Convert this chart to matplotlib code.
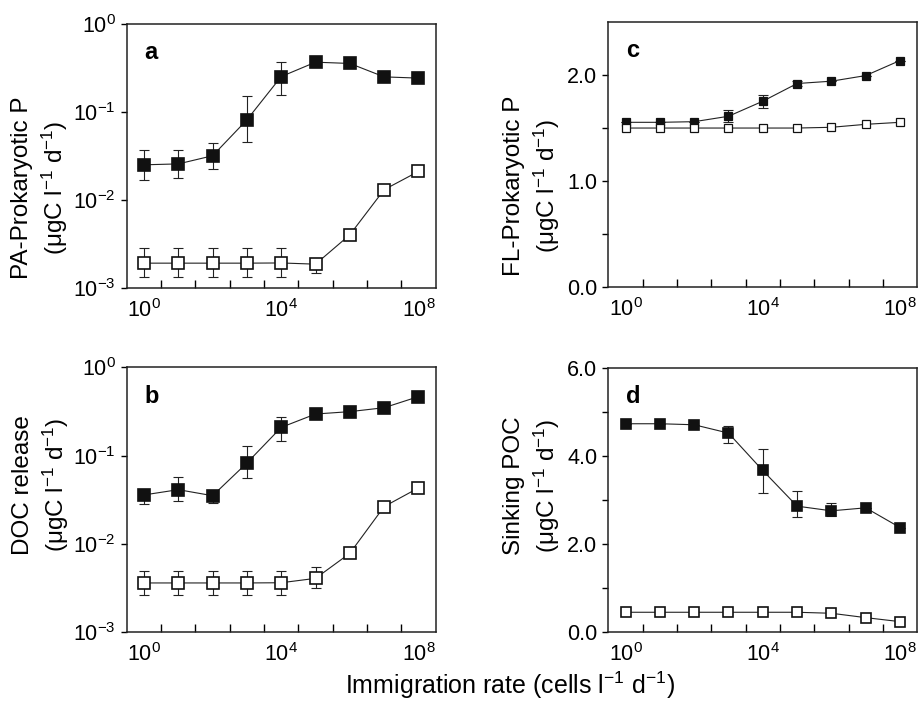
import numpy as np
import matplotlib
matplotlib.use("Agg")
import matplotlib.pyplot as plt
from matplotlib.ticker import FixedLocator, NullFormatter

plt.rcParams['font.family'] = ['Liberation Sans', 'DejaVu Sans']
plt.rcParams['mathtext.default'] = 'regular'

# immigration rate (cells l-1 d-1)
immigration = [1e0, 1e1, 1e2, 1e3, 1e4, 1e5, 1e6, 1e7, 1e8]

# a: PA-prokaryotic production
pa_closed = [0.0251, 0.0257, 0.0318, 0.0813, 0.252, 0.367, 0.355, 0.250, 0.242]
pa_closed_lo = [0.0169, 0.0177, 0.0226, 0.045, 0.156, 0.335, 0.340, 0.240, 0.235]
pa_closed_hi = [0.0371, 0.0371, 0.0442, 0.150, 0.364, 0.400, 0.370, 0.262, 0.250]
pa_open = [0.00192, 0.00192, 0.00192, 0.00192, 0.00193, 0.00187, 0.00403, 0.0131, 0.0211]
pa_open_lo = [0.00132, 0.00132, 0.00132, 0.00132, 0.00132, 0.0015, 0.00403, 0.0131, 0.0211]
pa_open_hi = [0.00284, 0.00284, 0.00284, 0.00284, 0.00284, 0.00187, 0.00403, 0.0131, 0.0211]

# b: DOC release
doc_closed = [0.0359, 0.0412, 0.0352, 0.0826, 0.209, 0.296, 0.315, 0.349, 0.466]
doc_closed_lo = [0.0284, 0.0304, 0.0289, 0.0559, 0.1466, 0.296, 0.315, 0.349, 0.466]
doc_closed_hi = [0.0402, 0.0569, 0.0395, 0.1275, 0.277, 0.296, 0.315, 0.349, 0.466]
doc_open = [0.00362, 0.00362, 0.00362, 0.00362, 0.00364, 0.00408, 0.00784, 0.0265, 0.0431]
doc_open_lo = [0.00265, 0.00265, 0.00265, 0.00265, 0.00265, 0.00315, 0.00784, 0.0265, 0.0431]
doc_open_hi = [0.00499, 0.00499, 0.00499, 0.00499, 0.00499, 0.00544, 0.00784, 0.0265, 0.0431]

# c: FL-prokaryotic production
fl_closed = [1.551, 1.551, 1.557, 1.608, 1.750, 1.917, 1.939, 1.992, 2.134]
fl_closed_lo = [1.551, 1.551, 1.557, 1.550, 1.690, 1.890, 1.939, 1.992, 2.134]
fl_closed_hi = [1.551, 1.551, 1.557, 1.670, 1.810, 1.945, 1.939, 1.992, 2.134]
fl_open = [1.497, 1.497, 1.497, 1.497, 1.497, 1.497, 1.504, 1.532, 1.551]

# d: sinking POC
poc_closed = [4.735, 4.735, 4.712, 4.523, 3.674, 2.864, 2.758, 2.826, 2.379]
poc_closed_lo = [4.735, 4.735, 4.712, 4.300, 3.167, 2.614, 2.630, 2.826, 2.379]
poc_closed_hi = [4.735, 4.735, 4.712, 4.680, 4.167, 3.197, 2.930, 2.826, 2.379]
poc_open = [0.455, 0.455, 0.455, 0.455, 0.455, 0.455, 0.432, 0.333, 0.242]

unit = '(μgC l$^{-1}$ d$^{-1}$)'


def err(vals, lo, hi):
    v = np.array(vals)
    return [v - np.array(lo), np.array(hi) - v]


def draw(ax, y, lo, hi, filled, ms):
    if lo is not None:
        ax.errorbar(immigration, y, yerr=err(y, lo, hi), fmt='none', ecolor='#222222',
                    elinewidth=0.8, capsize=3.5, capthick=0.8, zorder=2)
    ax.plot(immigration, y, color='#222222', lw=0.8, zorder=3)
    ax.plot(immigration, y, ls='none', marker='s', ms=ms,
            mfc='#111111' if filled else 'white', mec='#111111',
            mew=1.2 if ms > 6 else 0.9, zorder=4)


def style(ax, letter, ylabel, lx, ly):
    ax.set_xscale('log')
    ax.set_xlim(10 ** -0.5, 10 ** 8.5)
    ax.xaxis.set_major_locator(FixedLocator([1e0, 1e4, 1e8]))
    ax.xaxis.set_minor_locator(FixedLocator([10 ** (k + 0.5) for k in range(8)]))
    ax.xaxis.set_minor_formatter(NullFormatter())
    ax.tick_params(axis='x', which='major', length=0, labelsize=15.5, pad=8)
    ax.tick_params(axis='x', which='minor', direction='in', length=6, width=1.0)
    ax.tick_params(axis='y', which='both', direction='out', length=4, width=1.0,
                   labelsize=15.5, pad=4)
    for s in ax.spines.values():
        s.set_linewidth(1.1)
        s.set_color('#222222')
    ax.text(0.058, 0.935, letter, transform=ax.transAxes, fontsize=17,
            fontweight='bold', va='top', ha='left')
    # y label (two centred lines)
    ax.text(lx, ly, ylabel, transform=ax.transAxes, fontsize=17.5, rotation=90,
            ha='center', va='center', multialignment='center', linespacing=1.3)


fig = plt.figure(figsize=(9.19, 7.01), dpi=100)
ax_a = fig.add_axes([0.138, 0.589, 0.336, 0.377])
ax_c = fig.add_axes([0.662, 0.591, 0.336, 0.378])
ax_b = fig.add_axes([0.138, 0.098, 0.336, 0.378])
ax_d = fig.add_axes([0.662, 0.098, 0.336, 0.377])

# a
draw(ax_a, pa_closed, pa_closed_lo, pa_closed_hi, True, 8)
draw(ax_a, pa_open, pa_open_lo, pa_open_hi, False, 8)
ax_a.set_yscale('log')
ax_a.set_ylim(1e-3, 1e0)
ax_a.yaxis.set_major_locator(FixedLocator([1e-3, 1e-2, 1e-1, 1e0]))
ax_a.yaxis.set_minor_locator(FixedLocator([]))
style(ax_a, 'a', 'PA-Prokaryotic P\n' + unit, -0.28, 0.38)

# b
draw(ax_b, doc_closed, doc_closed_lo, doc_closed_hi, True, 8)
draw(ax_b, doc_open, doc_open_lo, doc_open_hi, False, 8)
ax_b.set_yscale('log')
ax_b.set_ylim(1e-3, 1e0)
ax_b.yaxis.set_major_locator(FixedLocator([1e-3, 1e-2, 1e-1, 1e0]))
ax_b.yaxis.set_minor_locator(FixedLocator([]))
style(ax_b, 'b', 'DOC release\n' + unit, -0.275, 0.555)

# c
draw(ax_c, fl_closed, fl_closed_lo, fl_closed_hi, True, 5.5)
draw(ax_c, fl_open, None, None, False, 5.5)
ax_c.set_ylim(0, 2.5)
ax_c.set_yticks([0, 0.5, 1.0, 1.5, 2.0])
ax_c.set_yticklabels(['0.0', '', '1.0', '', '2.0'])
style(ax_c, 'c', 'FL-Prokaryotic P\n' + unit, -0.245, 0.38)

# d
draw(ax_d, poc_closed, poc_closed_lo, poc_closed_hi, True, 7.5)
draw(ax_d, poc_open, None, None, False, 7.5)
ax_d.set_ylim(0, 6)
ax_d.set_yticks([0, 1, 2, 3, 4, 5, 6])
ax_d.set_yticklabels(['0.0', '', '2.0', '', '4.0', '', '6.0'])
style(ax_d, 'd', 'Sinking POC\n' + unit, -0.245, 0.555)

fig.text(0.555, 0.022, 'Immigration rate (cells l$^{-1}$ d$^{-1}$)', fontsize=18,
         ha='center', va='center')

fig.savefig('out.png', dpi=100)
